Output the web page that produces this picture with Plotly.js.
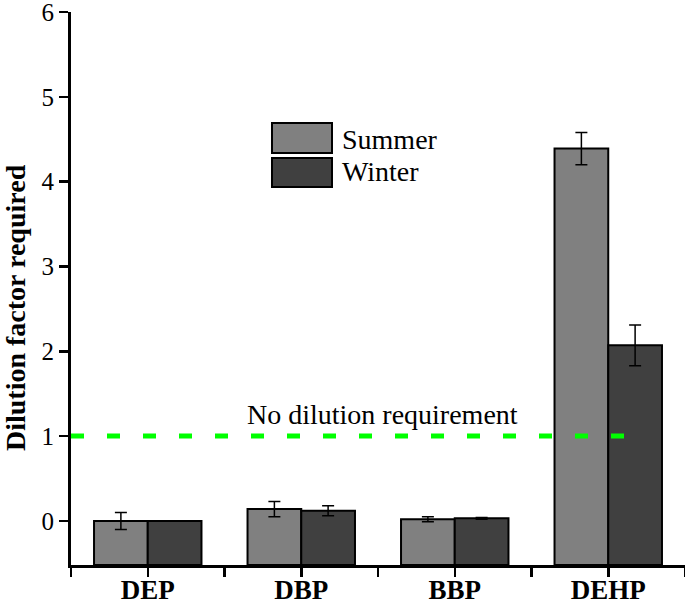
<!DOCTYPE html>
<html>
<head>
<meta charset="utf-8">
<script src="https://cdn.plot.ly/plotly-3.0.1.min.js"></script>
<style>html,body{margin:0;padding:0;background:#fff;}#chart{width:685px;height:602px;}</style>
</head>
<body>
<div id="chart"></div>
<script>
// Data
var categories = ["DEP", "DBP", "BBP", "DEHP"];
var summerValues = [0.00, 0.14, 0.02, 4.39];
var summerErrors = [0.10, 0.09, 0.03, 0.19];
var winterValues = [0.00, 0.12, 0.03, 2.07];
var winterErrors = [0.00, 0.06, 0.01, 0.24];
var yTickVals = [0, 1, 2, 3, 4, 5, 6];
var thresholdValue = 1;
var thresholdLabel = "No dilution requirement";
var seriesNames = ["Summer", "Winter"];
var yTitle = "Dilution factor required";

var yMin = -0.52, yMax = 6;
var xIdx = categories.map(function (c, i) { return i; });
var serif = "Liberation Serif";

function barTrace(name, vals, errs, color) {
  return {
    type: "bar",
    name: name,
    x: xIdx,
    y: vals.map(function (v) { return v - yMin; }),
    base: vals.map(function () { return yMin; }),
    marker: { color: color, line: { color: "#000", width: 2 } },
    error_y: { type: "data", array: errs, visible: true, color: "#000", thickness: 1.5, width: 6 },
    showlegend: false,
    hoverinfo: "skip"
  };
}

var traces = [
  barTrace(seriesNames[0], summerValues, summerErrors, "#808080"),
  barTrace(seriesNames[1], winterValues, winterErrors, "#404040"),
  {
    type: "scatter",
    mode: "lines",
    x: [-0.5, 3.15],
    y: [thresholdValue, thresholdValue],
    line: { color: "#00ff00", width: 5, dash: "13px,23px" },
    showlegend: false,
    hoverinfo: "skip"
  }
];

function px2x(p) { return (p - 71) / 614; }
function px2y(p) { return (565 - p) / 553; }

var layout = {
  width: 685,
  height: 602,
  margin: { l: 71, r: 0, t: 12, b: 37 },
  paper_bgcolor: "#fff",
  plot_bgcolor: "#fff",
  barmode: "group",
  bargap: 0.3,
  bargroupgap: 0,
  font: { family: serif, color: "#000" },
  xaxis: {
    range: [-0.5, 3.5],
    tickmode: "array",
    tickvals: xIdx,
    ticktext: categories,
    ticks: "outside",
    ticklen: 9,
    tickwidth: 2.5,
    tickcolor: "#000",
    minor: { ticks: "outside", ticklen: 9, tickwidth: 2.5, tickcolor: "#000", tick0: -0.5, dtick: 1 },
    showline: true,
    linecolor: "#000",
    linewidth: 3,
    showgrid: false,
    zeroline: false,
    ticklabeloverflow: "allow",
    ticklabelstandoff: -10,
    tickfont: { family: serif, size: 27, color: "#000", weight: "bold" },
    fixedrange: true
  },
  yaxis: {
    range: [yMin, yMax],
    tickmode: "array",
    tickvals: yTickVals,
    ticks: "outside",
    ticklen: 9,
    tickwidth: 2.5,
    tickcolor: "#000",
    showline: true,
    linecolor: "#000",
    linewidth: 3,
    showgrid: false,
    zeroline: false,
    ticklabeloverflow: "allow",
    tickfont: { family: serif, size: 25, color: "#000" },
    fixedrange: true
  },
  shapes: [
    { type: "rect", xref: "paper", yref: "paper", x0: px2x(272), x1: px2x(332), y0: px2y(153), y1: px2y(123),
      fillcolor: "#808080", line: { color: "#000", width: 2 } },
    { type: "rect", xref: "paper", yref: "paper", x0: px2x(272), x1: px2x(332), y0: px2y(187), y1: px2y(158),
      fillcolor: "#404040", line: { color: "#000", width: 2 } }
  ],
  annotations: [
    { xref: "paper", yref: "paper", x: px2x(340), y: px2y(139), xanchor: "left", yanchor: "middle",
      text: seriesNames[0], showarrow: false, font: { family: serif, size: 28, color: "#000" } },
    { xref: "paper", yref: "paper", x: px2x(340), y: px2y(172), xanchor: "left", yanchor: "middle",
      text: seriesNames[1], showarrow: false, font: { family: serif, size: 28, color: "#000" } },
    { xref: "x", yref: "y", x: 1.53, y: thresholdValue, xanchor: "center", yanchor: "bottom", yshift: 4,
      text: thresholdLabel, showarrow: false, font: { family: serif, size: 28, color: "#000" } },
    { xref: "paper", yref: "paper", x: px2x(15), y: px2y(308), xanchor: "center", yanchor: "middle", textangle: -90,
      text: "<b>" + yTitle + "</b>", showarrow: false, font: { family: serif, size: 28, color: "#000" } }
  ]
};

Plotly.newPlot("chart", traces, layout, { displayModeBar: false, staticPlot: true });
</script>
</body>
</html>
